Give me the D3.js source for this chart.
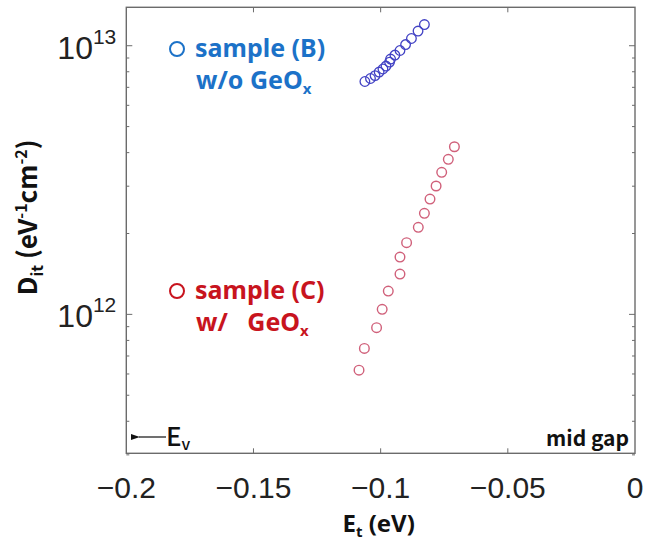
<!DOCTYPE html>
<html>
<head>
<meta charset="utf-8">
<script src="https://cdn.jsdelivr.net/npm/d3@7"></script>
<style>
  body { margin: 0; background: #fff; }
  svg { display: block; }
</style>
</head>
<body>
<svg width="646" height="545"></svg>
<script>
// sample (B) w/o GeOx
const blueEt = [-0.1062, -0.1040, -0.1022, -0.1006, -0.0991, -0.0979, -0.0965, -0.0961, -0.0944, -0.0924, -0.0902, -0.0879, -0.0853, -0.0828];
const blueDit = [7.36e12, 7.55e12, 7.74e12, 7.98e12, 8.19e12, 8.40e12, 8.69e12, 8.92e12, 9.23e12, 9.60e12, 1.01e13, 1.064e13, 1.134e13, 1.199e13];
// sample (C) w/ GeOx
const redEt = [-0.1085, -0.1064, -0.1016, -0.0994, -0.0970, -0.0924, -0.0924, -0.0898, -0.0852, -0.0828, -0.0806, -0.0782, -0.0760, -0.0734, -0.0710];
const redDit = [6.20e11, 7.47e11, 8.92e11, 1.044e12, 1.221e12, 1.413e12, 1.634e12, 1.848e12, 2.108e12, 2.377e12, 2.687e12, 3.005e12, 3.379e12, 3.776e12, 4.207e12];

const xTicks = [-0.2, -0.15, -0.1, -0.05, 0];
const xTickLabels = ["\u22120.2", "\u22120.15", "\u22120.1", "\u22120.05", "0"];
const yMajor = [1e12, 1e13];
const yMajorExp = ["12", "13"];
const yMinor = [3e11, 4e11, 5e11, 6e11, 7e11, 8e11, 9e11, 2e12, 3e12, 4e12, 5e12, 6e12, 7e12, 8e12, 9e12];

const svg = d3.select("svg");
const margin = { top: 7.3, right: 11, bottom: 91.7, left: 126.3 };
const width = +svg.attr("width") - margin.left - margin.right;
const height = +svg.attr("height") - margin.top - margin.bottom;

const g = svg.append("g").attr("transform", `translate(${margin.left},${margin.top})`);

const x = d3.scaleLinear().domain([-0.2, 0]).range([0, width]);
const y = d3.scaleLog().domain([3.04e11, 1.39e13]).range([height, 0]);

const axisColor = "#6b6b6b";
const tickFont = "'Liberation Sans', Arial, sans-serif";
const jpFont = "'Noto Sans CJK JP', 'Noto Sans', sans-serif";

// ticks (inside)
g.selectAll(".xtick-b").data(xTicks.slice(1, -1)).enter().append("line")
  .attr("x1", d => x(d)).attr("x2", d => x(d))
  .attr("y1", height).attr("y2", height - 5)
  .attr("stroke", axisColor).attr("stroke-width", 1);
g.selectAll(".xtick-t").data(xTicks.slice(1, -1)).enter().append("line")
  .attr("x1", d => x(d)).attr("x2", d => x(d))
  .attr("y1", 0).attr("y2", 5)
  .attr("stroke", axisColor).attr("stroke-width", 1);

[0, width].forEach((xx, i) => {
  const dir = i === 0 ? 1 : -1;
  g.selectAll(null).data(yMajor).enter().append("line")
    .attr("x1", xx).attr("x2", xx + dir * 6)
    .attr("y1", d => y(d)).attr("y2", d => y(d))
    .attr("stroke", axisColor).attr("stroke-width", 1);
  g.selectAll(null).data(yMinor).enter().append("line")
    .attr("x1", xx).attr("x2", xx + dir * 3)
    .attr("y1", d => y(d)).attr("y2", d => y(d))
    .attr("stroke", axisColor).attr("stroke-width", 1);
});

// frame
g.append("rect")
  .attr("width", width).attr("height", height)
  .attr("fill", "none").attr("stroke", axisColor).attr("stroke-width", 1.4);

// x tick labels
g.selectAll(".xlab").data(xTicks).enter().append("text")
  .attr("x", d => x(d)).attr("y", height + 45)
  .attr("text-anchor", "middle")
  .style("font-family", tickFont).style("font-size", "30px").attr("fill", "#222")
  .text((d, i) => xTickLabels[i]);

// y tick labels 10^n
yMajor.forEach((v, i) => {
  const t = g.append("text")
    .attr("x", -10).attr("y", y(v) + 13)
    .attr("text-anchor", "end")
    .style("font-family", tickFont).attr("fill", "#222");
  t.append("tspan").style("font-size", "32px").text("10");
  t.append("tspan").style("font-size", "21px").attr("dy", -15).text(yMajorExp[i]);
});

// axis titles
const xt = svg.append("text")
  .attr("x", margin.left + width / 2 - 2).attr("y", 532)
  .attr("text-anchor", "middle")
  .style("font-family", "'Noto Sans', sans-serif").style("font-size", "24px").style("font-weight", "bold").attr("fill", "#111");
xt.append("tspan").text("E");
xt.append("tspan").style("font-size", "15px").attr("dy", 5).text("t");
xt.append("tspan").attr("dy", -5).text(" (eV)");

const yt = svg.append("text")
  .attr("transform", `translate(37,${margin.top + 210}) rotate(-90)`)
  .attr("text-anchor", "middle")
  .style("font-family", jpFont).style("font-size", "26px").style("font-weight", "bold").attr("fill", "#111");
yt.append("tspan").text("D");
yt.append("tspan").style("font-size", "16px").attr("dy", 6).text("it");
yt.append("tspan").attr("dy", -6).text(" (eV");
yt.append("tspan").style("font-size", "16px").attr("dy", -10).text("-1");
yt.append("tspan").attr("dy", 10).text("cm");
yt.append("tspan").style("font-size", "16px").attr("dy", -10).text("-2");
yt.append("tspan").attr("dy", 10).text(")");

// markers
const blueData = blueEt.map((e, i) => ({ e, d: blueDit[i] }));
const redData = redEt.map((e, i) => ({ e, d: redDit[i] }));

g.selectAll(".pt-red").data(redData).enter().append("circle")
  .attr("cx", d => x(d.e)).attr("cy", d => y(d.d)).attr("r", 4.8)
  .attr("fill", "none").attr("stroke", "#d0607a").attr("stroke-width", 1.4);
g.selectAll(".pt-blue").data(blueData).enter().append("circle")
  .attr("cx", d => x(d.e)).attr("cy", d => y(d.d)).attr("r", 4.8)
  .attr("fill", "none").attr("stroke", "#4242c4").attr("stroke-width", 1.3);

// legend labels
const legendItems = [
  { line1: "sample (B)", pre: "w/o GeO", color: "#1c72c8", cy: 49 },
  { line1: "sample (C)", pre: "w/\u00a0\u00a0 GeO", color: "#c8141e", cy: 291 }
];
legendItems.forEach(d => {
  svg.append("circle").attr("cx", 177).attr("cy", d.cy).attr("r", 7)
    .attr("fill", "none").attr("stroke", d.color).attr("stroke-width", 2);
  svg.append("text").attr("x", 195).attr("y", d.cy + 8)
    .style("font-family", "'Noto Sans', sans-serif").style("font-size", "25px").style("font-weight", "bold")
    .attr("fill", d.color).text(d.line1);
  const t2 = svg.append("text").attr("x", 196).attr("y", d.cy + 40)
    .style("font-family", "'Noto Sans', sans-serif").style("font-size", "25px").style("font-weight", "bold")
    .attr("fill", d.color);
  t2.append("tspan").text(d.pre);
  t2.append("tspan").style("font-size", "15px").attr("dy", 5).text("x");
});

// E_v marker and mid gap
svg.append("defs").append("marker")
  .attr("id", "arr").attr("viewBox", "0 0 10 10").attr("refX", 1).attr("refY", 5)
  .attr("markerWidth", 9).attr("markerHeight", 9).attr("markerUnits", "userSpaceOnUse").attr("orient", "auto")
  .append("path").attr("d", "M10,1.5 L0,5 L10,8.5 Z").attr("fill", "#111");
svg.append("line").attr("x1", 166).attr("x2", 139).attr("y1", 437).attr("y2", 437)
  .attr("stroke", "#111").attr("stroke-width", 1.2).attr("marker-end", "url(#arr)");
const ev = svg.append("text").attr("x", 166).attr("y", 446)
  .style("font-family", jpFont).style("font-size", "26px").style("font-weight", "500").attr("fill", "#111");
ev.append("tspan").text("E");
ev.append("tspan").style("font-size", "16px").attr("dy", 4).text("v");

svg.append("text").attr("x", 629).attr("y", 446).attr("text-anchor", "end")
  .style("font-family", jpFont).style("font-size", "21px").style("font-weight", "bold")
  .attr("fill", "#111").text("mid gap");
</script>
</body>
</html>
